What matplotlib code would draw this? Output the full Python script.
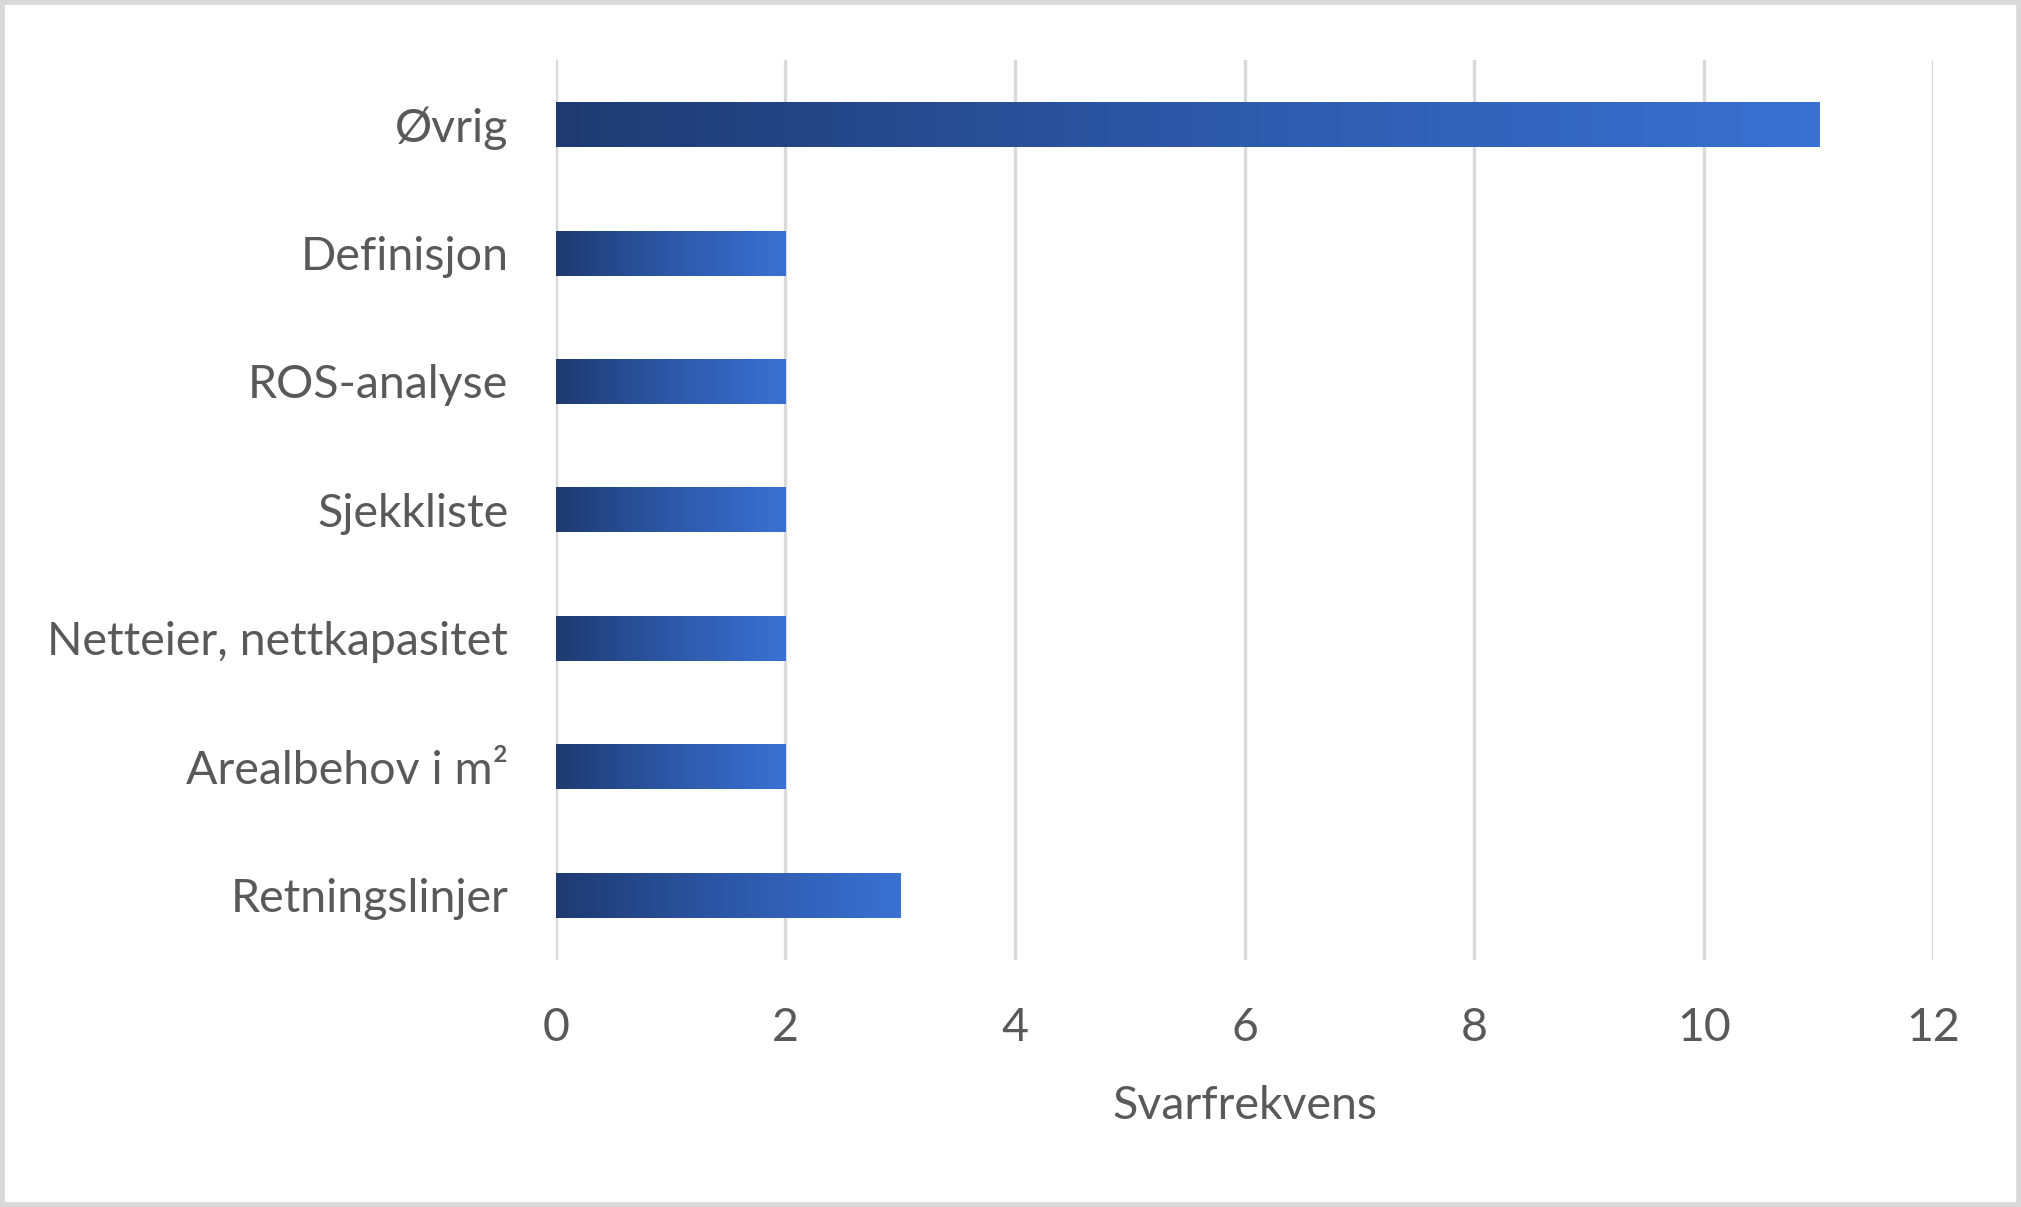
import matplotlib.pyplot as plt
import numpy as np
from matplotlib.colors import LinearSegmentedColormap
from matplotlib.patches import Rectangle

# data (bottom to top)
kategorier = ['Retningslinjer', 'Arealbehov i m²', 'Netteier, nettkapasitet',
              'Sjekkliste', 'ROS-analyse', 'Definisjon', 'Øvrig']
svar = [3, 2, 2, 2, 2, 2, 11]
xticks = [0, 2, 4, 6, 8, 10, 12]

plt.rcParams['font.family'] = ['Lato', 'DejaVu Sans']
tekst = '#595959'

fig = plt.figure(figsize=(20.21, 12.07), dpi=100)
ax = fig.add_axes([0.2749, 0.205, 0.6818, 0.745])

cmap = LinearSegmentedColormap.from_list('blaa', ['#1e3a70', '#2d58a8', '#3a71d2'])
grad = np.linspace(0, 1, 256).reshape(1, -1)

y = np.arange(len(kategorier))
bars = ax.barh(y, svar, height=0.35, color='none', edgecolor='none', zorder=3)
for b in bars:
    x0, y0 = b.get_x(), b.get_y()
    im = ax.imshow(grad, cmap=cmap, aspect='auto', zorder=3,
                   extent=[x0, x0 + b.get_width(), y0, y0 + b.get_height()])
    im.set_clip_path(b)

ax.set_xlim(0, 12)
ax.set_ylim(-0.5, 6.5)
ax.set_xticks(xticks)
ax.set_yticks(y)
ax.set_yticklabels(kategorier)
ax.grid(axis='x', color='#d9d9d9', linewidth=2.4, zorder=0)
ax.set_axisbelow(True)
for s in ax.spines.values():
    s.set_visible(False)
ax.tick_params(axis='both', length=0, labelsize=33.5, labelcolor=tekst)
ax.tick_params(axis='x', pad=34)
ax.tick_params(axis='y', pad=34)
ax.set_xlabel('Svarfrekvens', fontsize=33.5, color=tekst, labelpad=26)

fig.patches.append(Rectangle((0, 0), 1, 1, transform=fig.transFigure, fill=False,
                             edgecolor='#d9d9d9', linewidth=7))

fig.savefig('out.png', dpi=100)
